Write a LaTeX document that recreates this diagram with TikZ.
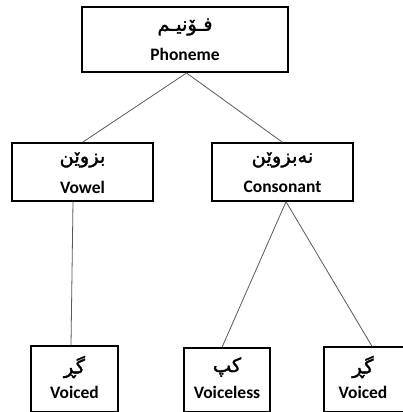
\documentclass[tikz,border=0pt]{standalone}
\usepackage{fontspec}
\setmainfont{Carlito}
\newfontfamily\arabicfont[Script=Arabic,FakeBold=1.6]{DejaVu Sans}
\TeXXeTstate=1
\newcommand{\kur}[1]{{\arabicfont\fontsize{19.5}{21}\selectfont\beginR #1\endR}}
\begin{document}
\begin{tikzpicture}[x=1pt,y=-1pt,
  box/.style={draw=black, line width=1.4pt, inner sep=0pt},
  topbox/.style={box, line width=2pt},
  lbl/.style={inner sep=0pt, font=\bfseries\fontsize{17.5}{19}\selectfont},
  arlbl/.style={inner sep=0pt},
  link/.style={draw=black!65, line width=0.8pt}]
\useasboundingbox (0,0) rectangle (403,412);

% boxes
\node[topbox, minimum width=206pt, minimum height=65pt] (phon) at (185,39.5) {};
\node[box, minimum width=141pt, minimum height=58pt] (vow) at (82.5,172) {};
\node[box, minimum width=141pt, minimum height=58pt] (cons) at (282.5,172) {};
\node[box, minimum width=87pt, minimum height=66pt] (vd1) at (74.5,379) {};
\node[box, minimum width=86pt, minimum height=64pt] (vl) at (227,380) {};
\node[box, minimum width=84pt, minimum height=65pt] (vd2) at (366,379.5) {};

% labels
\node[arlbl] (phonA) at (185,27) {\kur{فـۆنیـم}};
\node[lbl] (phonE) at (185,54) {Phoneme};
\node[arlbl] (vowA) at (82.5,160) {\kur{بزوێن}};
\node[lbl] (vowE) at (82.5,187) {Vowel};
\node[arlbl] (consA) at (282.5,160) {\kur{نەبزوێن}};
\node[lbl] (consE) at (282.5,187) {Consonant};
\node[arlbl] (vd1A) at (74.5,367) {\kur{گڕ}};
\node[lbl] (vd1E) at (74.5,392) {Voiced};
\node[arlbl] (vlA) at (227,367) {\kur{کپ}};
\node[lbl] (vlE) at (227,392) {Voiceless};
\node[arlbl] (vd2A) at (363,367) {\kur{گڕ}};
\node[lbl] (vd2E) at (363,392) {Voiced};

% connectors
\draw[link] ([xshift=1.5pt]phon.south) -- (vow.north);
\draw[link] ([xshift=1.5pt]phon.south) -- (cons.north);
\draw[link] ([xshift=-9.5pt]vow.south) -- ([xshift=-3.5pt]vd1.north);
\draw[link] ([xshift=3.5pt]cons.south) -- ([xshift=-5pt]vl.north);
\draw[link] ([xshift=3.5pt]cons.south) -- ([xshift=6pt]vd2.north);
\end{tikzpicture}
\end{document}
